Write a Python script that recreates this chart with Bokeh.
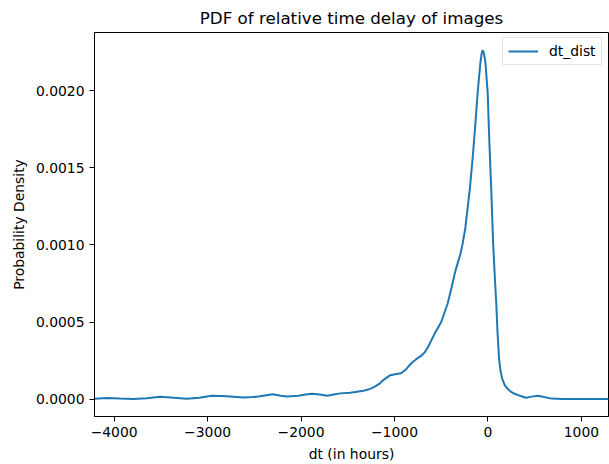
from bokeh.plotting import figure
from bokeh.models import ColumnDataSource, FixedTicker, Range1d, Legend, LegendItem
from bokeh.embed import file_html
from bokeh.resources import INLINE

# ---- data ----
dt_hours = [-4210, -4078, -3940, -3793, -3650, -3508, -3360, -3222, -3090, -2954,
            -2850, -2758, -2616, -2520, -2437, -2301, -2220, -2151, -2027, -1950,
            -1884, -1800, -1717, -1650, -1580, -1473, -1331, -1260, -1206, -1160,
            -1117, -1045, -980, -930, -880, -840, -805, -760, -717, -680,
            -645, -574, -500, -431, -390, -349, -295, -270, -242, -196,
            -164, -135, -110, -81, -68, -57, -44, -28, -3, 15,
            36, 55, 72, 90, 101, 119, 135, 154, 180, 208,
            240, 279, 340, 408, 470, 534, 600, 679, 800, 1000, 1290]
dt_dist = [0.000002, 0.000007, 0.000003, 0.0, 0.000006, 0.000015, 0.000008, 0.000002, 0.000008, 0.000022,
           0.000020, 0.000017, 0.000010, 0.000013, 0.000019, 0.000032, 0.000022, 0.000017, 0.000022, 0.000030,
           0.000034, 0.000030, 0.000022, 0.000030, 0.000037, 0.000041, 0.000054, 0.000066, 0.000082, 0.000100,
           0.000125, 0.000155, 0.000163, 0.000168, 0.000190, 0.000220, 0.000240, 0.000262, 0.000280, 0.000300,
           0.000333, 0.000420, 0.000500, 0.000620, 0.000720, 0.000830, 0.000940, 0.001010, 0.001110, 0.001350,
           0.001560, 0.001780, 0.001990, 0.002180, 0.002240, 0.002262, 0.002245, 0.002190, 0.001990, 0.001670,
           0.001350, 0.001020, 0.000810, 0.000610, 0.000450, 0.000260, 0.000180, 0.000130, 0.000090, 0.000068,
           0.000050, 0.000036, 0.000022, 0.000009, 0.000016, 0.000022, 0.000013, 0.000003, 0.0, 0.0, 0.0]

x_ticks = [-4000, -3000, -2000, -1000, 0, 1000]
x_tick_labels = ["\u22124000", "\u22123000", "\u22122000", "\u22121000", "0", "1000"]
y_ticks = [0.0, 0.0005, 0.0010, 0.0015, 0.0020]
y_tick_labels = ["0.0000", "0.0005", "0.0010", "0.0015", "0.0020"]

title_text = "PDF of relative time delay of images"
x_label = "dt (in hours)"
y_label = "Probability Density"
series_name = "dt_dist"

FONT = "DejaVu Sans"

source = ColumnDataSource(data=dict(x=dt_hours, y=dt_dist))

p = figure(
    width=609, height=464,
    frame_width=514, frame_height=384,
    min_border_left=94, min_border_right=1, min_border_top=32, min_border_bottom=48,
    x_range=Range1d(-4210, 1290), y_range=Range1d(-0.000113, 0.002378),
    output_backend="svg", toolbar_location=None,
    title=title_text,
)
p.title.align = "center"
p.title.text_font = FONT
p.title.text_font_size = "16.7px"
p.title.text_font_style = "normal"
p.title.text_color = "black"
p.title.standoff = 9
p.title.offset = 0

r = p.line("x", "y", source=source, line_color="#1f77b4", line_width=2)

p.xgrid.visible = False
p.ygrid.visible = False
p.outline_line_color = "black"
p.outline_line_width = 1
p.background_fill_color = "white"
p.border_fill_color = "white"

for ax in (p.xaxis[0], p.yaxis[0]):
    ax.axis_line_color = "black"
    ax.major_tick_line_color = "black"
    ax.major_tick_out = 5
    ax.major_tick_in = 0
    ax.minor_tick_line_color = None
    ax.major_label_text_font = FONT
    ax.major_label_text_font_size = "13.9px"
    ax.major_label_text_color = "black"
    ax.major_label_standoff = 5
    ax.axis_label_text_font = FONT
    ax.axis_label_text_font_size = "13.9px"
    ax.axis_label_text_font_style = "normal"
    ax.axis_label_text_color = "black"
    ax.axis_label_standoff = 6

p.xaxis[0].ticker = FixedTicker(ticks=x_ticks)
p.xaxis[0].major_label_overrides = dict(zip(x_ticks, x_tick_labels))
p.yaxis[0].ticker = FixedTicker(ticks=y_ticks)
p.yaxis[0].major_label_overrides = dict(zip(y_ticks, y_tick_labels))
p.xaxis[0].axis_label = x_label
p.yaxis[0].axis_label = y_label

legend = Legend(items=[LegendItem(label=series_name, renderers=[r])],
                location=(408, 351))
legend.margin = 0
legend.padding = 5
legend.glyph_width = 30
legend.glyph_height = 16
legend.label_standoff = 11
legend.label_text_font = FONT
legend.label_text_font_size = "13.9px"
legend.label_text_color = "black"
legend.label_height = 16
legend.border_line_color = "#cccccc"
legend.border_line_width = 1
legend.background_fill_alpha = 0.8
p.add_layout(legend)

open("out.html", "w").write(file_html(p, INLINE))
